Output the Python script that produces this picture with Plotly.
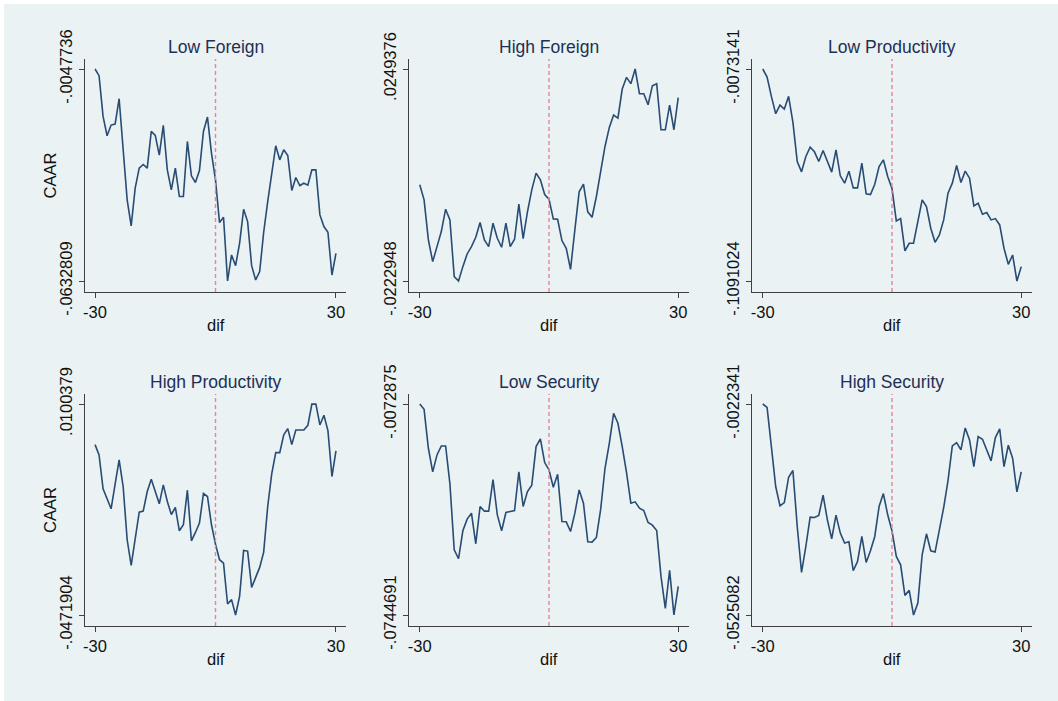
import plotly.graph_objects as go

# Event window (days relative to event)
dif = list(range(-30, 31))

low_foreign = [
    -0.0047736, -0.00662, -0.01786, -0.02320, -0.02025, -0.01998, -0.01297, -0.02615,
    -0.04089, -0.04808, -0.03767, -0.03214, -0.03113, -0.03214, -0.02200, -0.02311,
    -0.02855, -0.02034, -0.03260, -0.03813, -0.03214, -0.03997, -0.03997, -0.02477,
    -0.03426, -0.03610, -0.03278, -0.02200, -0.01804, -0.02799, -0.03536, -0.04716,
    -0.04568, -0.0632809, -0.05610, -0.05905, -0.05287, -0.04347, -0.04688, -0.05905,
    -0.06301, -0.06070, -0.04983, -0.04135, -0.03352, -0.02597, -0.02984, -0.02707,
    -0.02864, -0.03831, -0.03472, -0.03693, -0.03629, -0.03684, -0.03260, -0.03260,
    -0.04504, -0.04826, -0.04983, -0.06162, -0.05564,
]

high_foreign = [
    -0.00087, -0.00422, -0.01314, -0.01798, -0.01463, -0.01128, -0.00630, -0.00868,
    -0.02132, -0.0222948, -0.01909, -0.01627, -0.01463, -0.01255, -0.00927, -0.01314,
    -0.01463, -0.00942, -0.01277, -0.01478, -0.00942, -0.01463, -0.01299, -0.00518,
    -0.01285, -0.00689, -0.00199, 0.00173, 0.00025, -0.00303, -0.00407, -0.00846,
    -0.00853, -0.01329, -0.01500, -0.01969, -0.01091, -0.00243, -0.00072, -0.00689,
    -0.00809, -0.00347, 0.00211, 0.00768, 0.01192, 0.01468, 0.01401, 0.02048,
    0.02308, 0.02167, 0.0249376, 0.01944, 0.01944, 0.01698, 0.02122, 0.02167,
    0.01140, 0.01140, 0.01691, 0.01140, 0.01854,
]

low_productivity = [
    -0.0073141, -0.01116, -0.02046, -0.02879, -0.02463, -0.02655, -0.02046, -0.03296,
    -0.05172, -0.05669, -0.04931, -0.04482, -0.04707, -0.05172, -0.04643, -0.05156,
    -0.05685, -0.04611, -0.05861, -0.06214, -0.05636, -0.06438, -0.06438, -0.05252,
    -0.06727, -0.06759, -0.06262, -0.05412, -0.05092, -0.05893, -0.06470, -0.08025,
    -0.07913, -0.09468, -0.09099, -0.09099, -0.07977, -0.07015, -0.07336, -0.08378,
    -0.09051, -0.08698, -0.07977, -0.06695, -0.06214, -0.05364, -0.06182, -0.05636,
    -0.05973, -0.07304, -0.07175, -0.07704, -0.07624, -0.07977, -0.07913, -0.08218,
    -0.09339, -0.10109, -0.09660, -0.1091024, -0.10221,
]

high_productivity = [
    -0.00097, -0.00377, -0.01298, -0.01550, -0.01839, -0.01171, -0.00512, -0.01234,
    -0.02679, -0.03374, -0.02679, -0.01929, -0.01902, -0.01370, -0.01036, -0.01370,
    -0.01704, -0.01189, -0.01641, -0.01993, -0.01803, -0.02435, -0.02272, -0.01334,
    -0.02706, -0.02480, -0.02227, -0.01424, -0.01505, -0.02272, -0.02796, -0.03220,
    -0.03310, -0.04421, -0.04303, -0.0471904, -0.04213, -0.02967, -0.02985, -0.03969,
    -0.03690, -0.03428, -0.03013, -0.01776, -0.00891, -0.00314, -0.00314, 0.00165,
    0.00336, -0.00097, 0.00300, 0.00300, 0.00300, 0.00426, 0.0100379, 0.01001,
    0.00435, 0.00697, 0.00282, -0.00964, -0.00269,
]

low_security = [
    -0.0072875, -0.00898, -0.02138, -0.02891, -0.02350, -0.02064, -0.02064, -0.03272,
    -0.05370, -0.05656, -0.04766, -0.04395, -0.04204, -0.05179, -0.03993, -0.04141,
    -0.04141, -0.03134, -0.04258, -0.04766, -0.04183, -0.04162, -0.04120, -0.02891,
    -0.03993, -0.03516, -0.03314, -0.02085, -0.01841, -0.02594, -0.02827, -0.03378,
    -0.02965, -0.04470, -0.04480, -0.04787, -0.04204, -0.03463, -0.03887, -0.05116,
    -0.05127, -0.04978, -0.04077, -0.02774, -0.01979, -0.01025, -0.01343, -0.02085,
    -0.02912, -0.03887, -0.03844, -0.04046, -0.04120, -0.04501, -0.04586, -0.04756,
    -0.06218, -0.07235, -0.06027, -0.0744691, -0.06536,
]

high_security = [
    -0.0022341, -0.00303, -0.01238, -0.02190, -0.02650, -0.02571, -0.01968, -0.01809,
    -0.03142, -0.04236, -0.03617, -0.02920, -0.02928, -0.02880, -0.02396, -0.02983,
    -0.03435, -0.02872, -0.03300, -0.03538, -0.03506, -0.04196, -0.03974, -0.03380,
    -0.03998, -0.03720, -0.03380, -0.02666, -0.02357, -0.02864, -0.03245, -0.03855,
    -0.04054, -0.04783, -0.04664, -0.0525082, -0.04966, -0.03816, -0.03316, -0.03720,
    -0.03752, -0.03245, -0.02690, -0.02047, -0.01223, -0.01143, -0.01318, -0.00794,
    -0.01080, -0.01714, -0.01001, -0.01064, -0.01318, -0.01579, -0.01024, -0.00818,
    -0.01714, -0.01207, -0.01516, -0.02317, -0.01841,
]

panel_titles = ["Low Foreign", "High Foreign", "Low Productivity",
                "High Productivity", "Low Security", "High Security"]
panel_series = [low_foreign, high_foreign, low_productivity,
                high_productivity, low_security, high_security]
x_tick_values = [-30, 30]
x_tick_labels = ["-30", "30"]

W, H = 1058, 701
BG = "#eaf2f3"
LINE = "#284c74"
INK = "#1f2f55"
TXT = "#111111"
FONT = "Liberation Sans, Arial, Helvetica, sans-serif"

# Plot-region boxes in pixels: (left, right) per column, (top, bottom) per row
cols = [(85, 346), (409, 689), (752, 1032)]
rows = [(59, 292), (394, 626)]


def stata_label(v):
    s = f"{v:.7f}"
    return s.replace("0.", ".", 1)


fig = go.Figure()
annotations = []
shapes = [
    dict(type="rect", xref="paper", yref="paper", x0=4 / W, x1=1, y0=0, y1=1 - 4 / H,
         fillcolor=BG, line=dict(width=0), layer="below"),
]

for i, (title, ys) in enumerate(zip(panel_titles, panel_series)):
    r, c = divmod(i, 3)
    n = i + 1
    xa = "x" if n == 1 else f"x{n}"
    ya = "y" if n == 1 else f"y{n}"
    (xl, xr), (yt, yb) = cols[c], rows[r]

    fig.add_trace(go.Scatter(x=dif, y=ys, mode="lines", xaxis=xa, yaxis=ya,
                             line=dict(color=LINE, width=1.6), showlegend=False,
                             hoverinfo="x+y"))

    lo, hi = min(ys), max(ys)
    span = hi - lo
    pad_top = span * 10 / (yb - yt - 21)
    pad_bot = span * 11 / (yb - yt - 21)

    tick_font = dict(family=FONT, size=16.5, color=TXT)
    fig.update_layout(**{
        ("xaxis" if n == 1 else f"xaxis{n}"): dict(
            domain=[xl / W, xr / W], anchor=ya, range=[-32.5, 32.5],
            tickvals=x_tick_values, ticktext=x_tick_labels, ticks="outside",
            ticklen=5, tickcolor="#404040", showline=True, linecolor="#404040",
            linewidth=1, showgrid=False, zeroline=False, tickfont=tick_font,
            automargin=False,
        ),
        ("yaxis" if n == 1 else f"yaxis{n}"): dict(
            domain=[1 - yb / H, 1 - yt / H], anchor=xa,
            range=[lo - pad_bot, hi + pad_top],
            tickvals=[lo, hi], ticktext=[stata_label(lo), stata_label(hi)],
            tickangle=-90, ticks="outside", ticklen=5, tickcolor="#404040",
            showline=True, linecolor="#404040", linewidth=1,
            showgrid=True, gridcolor=BG, gridwidth=1, zeroline=False,
            tickfont=tick_font, automargin=False,
        ),
    })

    # Event day marker
    shapes.append(dict(type="line", xref=xa, yref=f"{ya} domain", x0=0, x1=0,
                       y0=0, y1=1, line=dict(color="#e6849b", width=1.4, dash="4px,3px")))

    # Panel title
    annotations.append(dict(text=title, xref="paper", yref="paper",
                            x=(xl + xr) / 2 / W, y=1 - (yt - 12) / H,
                            showarrow=False, xanchor="center", yanchor="middle",
                            font=dict(family=FONT, size=17.5, color=INK)))
    # x-axis title
    annotations.append(dict(text="dif", xref="paper", yref="paper",
                            x=(xl + xr) / 2 / W, y=1 - (yb + 33) / H,
                            showarrow=False, xanchor="center", yanchor="middle",
                            font=dict(family=FONT, size=16.5, color=TXT)))
    if c == 0:
        annotations.append(dict(text="CAAR", xref="paper", yref="paper",
                                x=50 / W, y=1 - (yt + yb) / 2 / H, textangle=-90,
                                showarrow=False, xanchor="center", yanchor="middle",
                                font=dict(family=FONT, size=16.5, color=TXT)))

fig.update_layout(
    width=W, height=H, margin=dict(l=0, r=0, t=0, b=0),
    paper_bgcolor="white", plot_bgcolor="white",
    shapes=shapes, annotations=annotations,
)

fig.write_html("out.html")
